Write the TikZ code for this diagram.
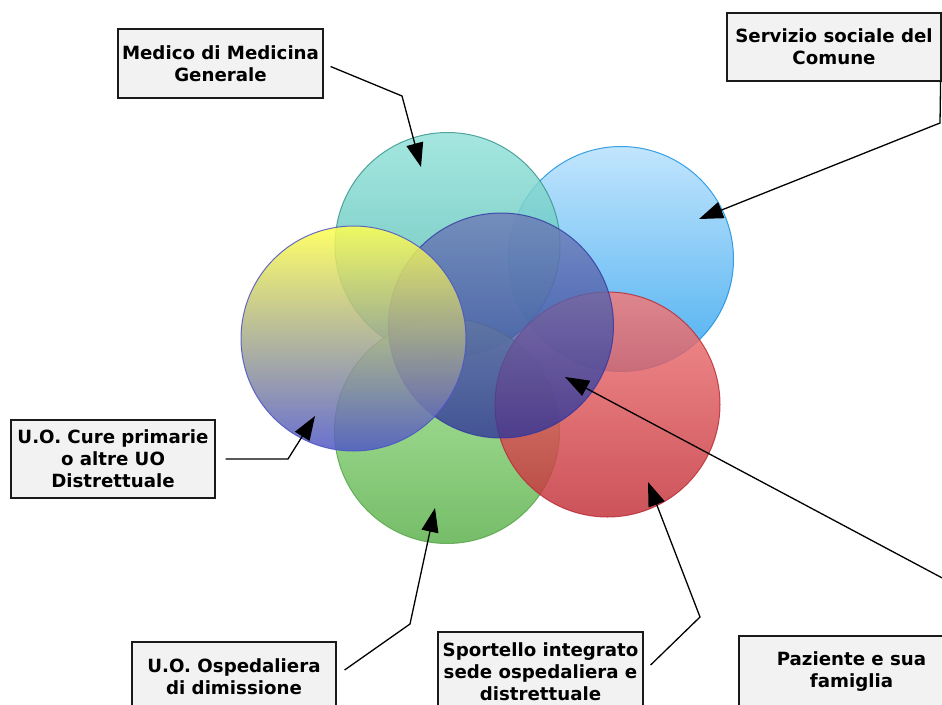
\documentclass[tikz,border=0pt]{standalone}
\usepackage{fontspec}
\setmainfont{DejaVu Sans}
\usetikzlibrary{arrows.meta}

\definecolor{boxfill}{HTML}{F2F2F2}
\definecolor{boxline}{HTML}{1A1A1A}
% circle colours: top, bottom, rim
\definecolor{tealtop}{HTML}{94E2DA}
\definecolor{tealbot}{HTML}{48B4AC}
\definecolor{tealrim}{HTML}{36968C}
\definecolor{skytop}{HTML}{B6E0FC}
\definecolor{skybot}{HTML}{2AA0EE}
\definecolor{skyrim}{HTML}{1890E0}
\definecolor{greentop}{HTML}{A2E692}
\definecolor{greenbot}{HTML}{5CB04C}
\definecolor{greenrim}{HTML}{58A64A}
\definecolor{redtop}{HTML}{F27A7A}
\definecolor{redbot}{HTML}{C2323A}
\definecolor{redrim}{HTML}{BA2C34}
\definecolor{indtop}{HTML}{6C7CB6}
\definecolor{indbot}{HTML}{30359A}
\definecolor{indrim}{HTML}{3236A0}
\definecolor{yeltop}{HTML}{FFFF50}
\definecolor{yelbot}{HTML}{5058C8}
\definecolor{yelrim}{HTML}{4C54C4}

\begin{document}
\begin{tikzpicture}[x=1pt,y=-1pt,
  box/.style={draw=boxline, line width=1.2pt, fill=boxfill, inner sep=0pt,
    align=center, font=\bfseries\fontsize{18.2}{22}\selectfont},
  ball/.style={circle, minimum size=225pt, inner sep=0pt, line width=1pt, opacity=0.84},
  link/.style={draw=black, line width=1.3pt, line join=miter,
    -{Triangle[length=24pt,width=17pt]}}]
\useasboundingbox (0,0) rectangle (942,704);
\clip (0,0) rectangle (942,704);

% overlapping circles, back to front
\node[ball, top color=skytop, bottom color=skybot, draw=skyrim] (sky) at (621,259) {};
\node[ball, top color=tealtop, bottom color=tealbot, draw=tealrim] (teal) at (447.5,245) {};
\node[ball, top color=greentop, bottom color=greenbot, draw=greenrim] (green) at (447,431) {};
\node[ball, top color=redtop, bottom color=redbot, draw=redrim] (red) at (607.5,404.5) {};
\node[ball, top color=indtop, bottom color=indbot, draw=indrim, opacity=0.8] (ind) at (501,325.5) {};
\node[ball, top color=yeltop, bottom color=yelbot, draw=yelrim, opacity=0.86] (yel) at (353.5,338.5) {};

% labels
\node[box, minimum width=205pt, minimum height=69pt] (med) at (220.5,63.5) {Medico di Medicina\\Generale};
\node[box, minimum width=214pt, minimum height=68pt] (soc) at (834,47) {Servizio sociale del\\Comune};
\node[box, minimum width=204pt, minimum height=78pt] (cure) at (113,459) {U.O. Cure primarie\\o altre UO\\Distrettuale};
\node[box, minimum width=204pt, minimum height=70pt] (osp) at (234,677) {U.O. Ospedaliera\\di dimissione};
\node[box, minimum width=205pt, minimum height=80pt] (spo) at (540.5,672) {Sportello integrato\\sede ospedaliera e\\distrettuale};
\node[box, minimum width=225pt, minimum height=72pt] (paz) at (851.5,672) {Paziente e sua\\famiglia};

% connector bends and tips
\coordinate (medbend) at (402,96);
\coordinate (medtip) at (421,167);
\coordinate (socbend) at (940,123);
\coordinate (soctip) at (699,219);
\coordinate (curebend) at (288,459);
\coordinate (curetip) at (315,416);
\coordinate (ospbend) at (410,624);
\coordinate (osptip) at (435,508);
\coordinate (spobend) at (700,617);
\coordinate (spotip) at (648,482);
\coordinate (pazfrom) at (946,580);
\coordinate (paztip) at (565,377);

% connectors
\draw[link] ([xshift=7pt,yshift=-3pt]med.east) -- (medbend) -- (medtip);
\draw[link] ([xshift=-1pt]soc.south east) -- (socbend) -- (soctip);
\draw[link] ([xshift=10pt]cure.east) -- (curebend) -- (curetip);
\draw[link] ([xshift=8pt,yshift=7pt]osp.east) -- (ospbend) -- (osptip);
\draw[link] ([xshift=7pt,yshift=7pt]spo.east) -- (spobend) -- (spotip);
\draw[link] (pazfrom) -- (paztip);
\end{tikzpicture}
\end{document}
